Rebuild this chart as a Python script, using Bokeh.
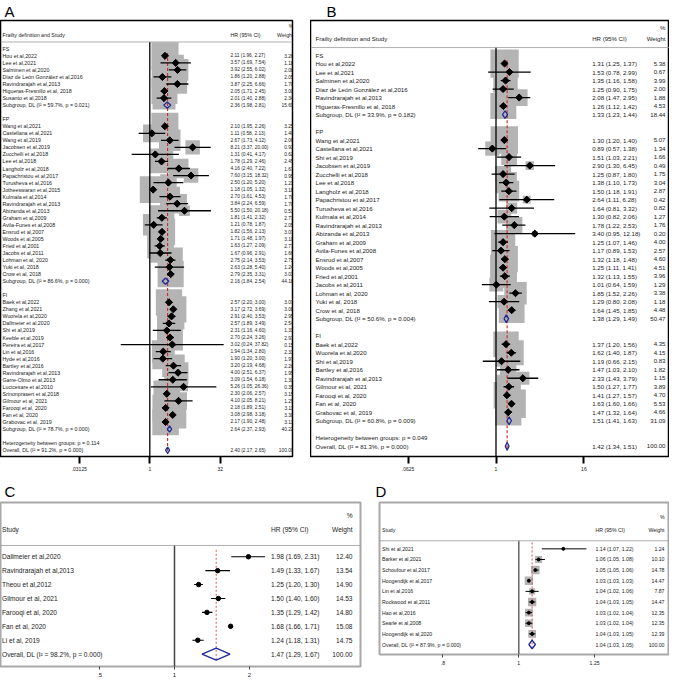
import numpy as np
from bokeh.plotting import figure
from bokeh.models import ColumnDataSource, LabelSet, Label, Span, Range1d, FixedTicker
from bokeh.layouts import row, column
from bokeh.embed import file_html
from bokeh.resources import INLINE
from bokeh.core.properties import value

FONT = "Liberation Sans"
NULL_HR = 1.0

# ---------------- Panel A: data ----------------
A_FS_STUDY = ["Hou  et al,2022", "Lee et al,2021", "Salminen et al,2020",
              "Díaz de León González et al,2016", "Ravindrarajah et al,2013",
              "Higueras-Fresnillo et al, 2018", "Susanto et al,2018"]
A_FS_HR = [2.11, 3.57, 3.92, 1.86, 3.87, 2.05, 2.01]
A_FS_LO = [1.96, 1.69, 2.55, 1.20, 2.25, 1.71, 1.40]
A_FS_HI = [2.27, 7.54, 6.02, 2.88, 6.66, 2.45, 2.88]
A_FS_W = [3.26, 1.18, 2.08, 2.05, 1.70, 3.00, 2.34]
A_FS_SUB = [2.36, 1.98, 2.81, 15.60]
A_FS_STATS = "I² = 59.7%, p = 0.021"

A_FP_STUDY = ["Wang et al,2021", "Castellana et al,2021", "Wang et al,2019", "Jacobsen et al,2019",
              "Zucchelli et al,2018", "Lee et al,2018", "Langholz et al,2018", "Papachristou et al,2017",
              "Turusheva et al,2016", "Jotheeswaran et al,2015", "Kulmala et al,2014",
              "Ravindrarajah et al,2013", "Abizanda et al,2013", "Graham et al,2009",
              "Avila-Funes et al,2008", "Ensrud et al,2007", "Woods et al,2005", "Fried et al,2001",
              "Jacobs et al,2011", "Lohman et al, 2020", "Yuki et al, 2018", "Crow et al, 2018"]
A_FP_HR = [2.10, 1.11, 2.67, 8.21, 1.31, 1.78, 4.16, 7.60, 2.50, 1.18, 2.70, 3.84, 5.50, 1.81,
           1.21, 1.82, 1.71, 1.63, 1.67, 2.75, 2.63, 2.79]
A_FP_LO = [1.95, 0.58, 1.73, 3.37, 0.41, 1.29, 2.40, 3.15, 1.20, 1.05, 1.61, 2.24, 1.50, 1.41,
           0.78, 1.56, 1.48, 1.27, 0.96, 2.14, 1.28, 2.35]
A_FP_HI = [2.26, 2.13, 4.12, 20.00, 4.17, 2.46, 7.22, 18.32, 5.20, 1.32, 4.53, 6.59, 20.18, 2.32,
           1.87, 2.13, 1.97, 2.09, 2.91, 3.53, 5.40, 3.31]
A_FP_W = [3.25, 1.40, 2.06, 0.93, 0.62, 2.45, 1.67, 0.95, 1.21, 3.18, 1.78, 1.70, 0.51, 2.77,
          2.05, 3.07, 3.10, 2.77, 1.66, 2.75, 1.24, 3.03]
A_FP_SUB = [2.16, 1.84, 2.54, 44.18]
A_FP_STATS = "I² = 86.6%, p = 0.000"

A_FI_STUDY = ["Baek et al,2022", "Zhang et al,2021", "Wuorela et al,2020", "Dallmeier et al,2020",
              "Shi et al,2019", "Keeble et al,2019", "Pereira et al,2017", "Lin et al,2016",
              "Hyde et al,2016", "Bartley et al,2016", "Ravindrarajah et al,2013",
              "Garre-Olmo et al,2013", "Lucicesare et al,2010", "Srinonprasert et al,2018",
              "Gilmour et al, 2021", "Farooqi et al, 2020", "Fan et al, 2020", "Grabovac et al, 2019"]
A_FI_HR = [2.57, 3.17, 2.91, 2.57, 2.31, 2.70, 3.02, 1.94, 1.90, 3.20, 4.00, 3.09, 5.26, 2.30,
           4.10, 2.18, 3.08, 2.17]
A_FI_LO = [2.20, 2.72, 2.40, 1.89, 1.16, 2.24, 0.24, 1.34, 1.20, 2.19, 2.51, 1.54, 1.05, 2.06,
           2.05, 1.89, 2.98, 1.90]
A_FI_HI = [3.00, 3.69, 3.53, 3.49, 4.60, 3.26, 37.82, 2.80, 3.00, 4.68, 6.37, 6.18, 26.36, 2.57,
           8.21, 2.51, 3.18, 2.48]
A_FI_W = [3.07, 3.08, 2.95, 2.54, 1.31, 2.97, 0.15, 2.31, 1.97, 2.26, 1.95, 1.30, 0.35, 3.15,
          1.29, 3.11, 3.30, 3.13]
A_FI_SUB = [2.64, 2.37, 2.93, 40.22]
A_FI_STATS = "I² = 78.7%, p = 0.000"

A_HET = "Heterogeneity between groups: p = 0.114"
A_OVERALL = [2.40, 2.17, 2.65, 100.00]
A_OVERALL_STATS = "I² = 91.2%, p = 0.000"
A_TICKS = [1 / 32, 1, 32]
A_TICK_LABELS = [".03125", "1", "32"]

# ---------------- Panel B: data ----------------
B_FS_STUDY = ["Hou  et al,2022", "Lee et al,2021", "Salminen et al,2020",
              "Díaz de León González et al,2016", "Ravindrarajah et al,2013",
              "Higueras-Fresnillo et al, 2018"]
B_FS_HR = [1.31, 1.53, 1.35, 1.25, 2.08, 1.26]
B_FS_LO = [1.25, 0.78, 1.16, 0.90, 1.47, 1.12]
B_FS_HI = [1.37, 2.99, 1.58, 1.75, 2.95, 1.42]
B_FS_W = [5.38, 0.67, 3.99, 2.00, 1.88, 4.53]
B_FS_SUB = [1.33, 1.23, 1.44, 18.44]
B_FS_STATS = "I² = 33.9%, p = 0.182"

B_FP_STUDY = ["Wang et al,2021", "Castellana et al,2021", "Shi et al,2019", "Jacobsen et al,2019",
              "Zucchelli et al,2018", "Lee et al,2018", "Langholz et al,2018", "Papachristou et al,2017",
              "Turusheva et al,2016", "Kulmala et al,2014", "Ravindrarajah et al,2013",
              "Abizanda et al,2013", "Graham et al,2009", "Avila-Funes et al,2008", "Ensrud et al,2007",
              "Woods et al,2005", "Fried et al,2001", "Jacobs et al,2011", "Lohman et al, 2020",
              "Yuki et al, 2018", "Crow et al, 2018"]
B_FP_HR = [1.30, 0.89, 1.51, 2.90, 1.25, 1.38, 1.50, 2.64, 1.64, 1.30, 1.78, 3.40, 1.25, 1.17,
           1.32, 1.25, 1.32, 1.01, 1.85, 1.29, 1.64]
B_FP_LO = [1.20, 0.57, 1.03, 1.30, 0.87, 1.10, 1.18, 1.11, 0.81, 0.82, 1.22, 0.95, 1.07, 0.89,
           1.18, 1.11, 1.13, 0.64, 1.52, 0.80, 1.45]
B_FP_HI = [1.40, 1.38, 2.21, 6.45, 1.80, 1.73, 1.91, 6.28, 3.32, 2.06, 2.53, 12.18, 1.46, 1.53,
           1.48, 1.41, 1.55, 1.59, 2.26, 2.08, 1.85]
B_FP_W = [5.07, 1.34, 1.66, 0.49, 1.75, 3.04, 2.87, 0.42, 0.82, 1.27, 1.76, 0.20, 4.00, 2.57,
          4.60, 4.51, 3.96, 1.29, 3.38, 1.18, 4.48]
B_FP_SUB = [1.38, 1.29, 1.49, 50.47]
B_FP_STATS = "I² = 50.6%, p = 0.004"

B_FI_STUDY = ["Baek et al,2022", "Wuorela et al,2020", "Shi et al,2019", "Bartley et al,2016",
              "Ravindrarajah et al,2013", "Gilmour et al, 2021", "Farooqi et al, 2020",
              "Fan et al, 2020", "Grabovac et al, 2019"]
B_FI_HR = [1.37, 1.62, 1.19, 1.47, 2.33, 1.50, 1.41, 1.63, 1.47]
B_FI_LO = [1.20, 1.40, 0.66, 1.03, 1.43, 1.27, 1.27, 1.60, 1.32]
B_FI_HI = [1.56, 1.87, 2.15, 2.10, 3.79, 1.77, 1.57, 1.66, 1.64]
B_FI_W = [4.35, 4.15, 0.83, 1.82, 1.15, 3.89, 4.70, 5.53, 4.66]
B_FI_SUB = [1.51, 1.41, 1.63, 31.09]
B_FI_STATS = "I² = 60.8%, p = 0.009"

B_HET = "Heterogeneity between groups: p = 0.049"
B_OVERALL = [1.42, 1.34, 1.51, 100.00]
B_OVERALL_STATS = "I² = 81.3%, p = 0.000"
B_TICKS = [1 / 16, 1, 16]
B_TICK_LABELS = [".0625", "1", "16"]

# ---------------- Panel C: data ----------------
C_STUDY = ["Dallmeier et al,2020", "Ravindrarajah et al,2013", "Theou et al,2012",
           "Gilmour et al, 2021", "Farooqi et al, 2020", "Fan et al, 2020", "Li et al, 2019"]
C_HR = [1.98, 1.49, 1.25, 1.50, 1.35, 1.68, 1.24]
C_LO = [1.69, 1.33, 1.20, 1.40, 1.29, 1.66, 1.18]
C_HI = [2.31, 1.67, 1.30, 1.60, 1.42, 1.71, 1.31]
C_W = [12.40, 13.54, 14.90, 14.53, 14.80, 15.08, 14.75]
C_OVERALL = [1.47, 1.29, 1.67, 100.00]
C_OVERALL_STATS = "I² = 98.2%, p = 0.000"
C_TICKS = [0.5, 1, 2]
C_TICK_LABELS = [".5", "1", "2"]

# ---------------- Panel D: data ----------------
D_STUDY = ["Shi et al,2021", "Barker et al,2021", "Schoufour et al,2017", "Hoogendijk et al,2017",
           "Lin et al,2016", "Rockwood et al,2011", "Hao et al,2016", "Searle et al,2008",
           "Hoogendijk et al,2020"]
D_HR = [1.14, 1.06, 1.05, 1.03, 1.04, 1.04, 1.03, 1.03, 1.04]
D_LO = [1.07, 1.05, 1.05, 1.03, 1.02, 1.03, 1.02, 1.02, 1.03]
D_HI = [1.22, 1.08, 1.06, 1.03, 1.06, 1.05, 1.04, 1.04, 1.05]
D_W = [1.24, 10.10, 14.78, 14.47, 7.87, 14.47, 12.35, 12.35, 12.39]
D_OVERALL = [1.04, 1.03, 1.05, 100.00]
D_OVERALL_STATS = "I² = 87.9%, p = 0.000"
D_TICKS = [0.8, 1, 1.25]
D_TICK_LABELS = [".8", "1", "1.25"]


def fmt_ci(h, l, u):
    return f"{h:.2f} ({l:.2f}, {u:.2f})"


def build(groups, het, overall, overall_stats, blank_after):
    lab = dict(row=[], text=[], ci=[], w=[])
    st = dict(row=[], hr=[], lo=[], hi=[], w=[])
    dm = dict(row=[], hr=[], lo=[], hi=[])
    r = 0
    for g in groups:
        if g.get("name"):
            lab["row"].append(r); lab["text"].append(g["name"]); lab["ci"].append(""); lab["w"].append("")
            r += 1
        for s, h, l, u, w in zip(g["study"], g["hr"], g["lo"], g["hi"], g["w"]):
            lab["row"].append(r); lab["text"].append(s); lab["ci"].append(fmt_ci(h, l, u))
            lab["w"].append(f"{w:.2f}")
            st["row"].append(r); st["hr"].append(h); st["lo"].append(l); st["hi"].append(u); st["w"].append(w)
            r += 1
        if g.get("sub"):
            h, l, u, w = g["sub"]
            lab["row"].append(r); lab["text"].append(f"Subgroup, DL ({g['stats']})")
            lab["ci"].append(fmt_ci(h, l, u)); lab["w"].append(f"{w:.2f}")
            dm["row"].append(r); dm["hr"].append(h); dm["lo"].append(l); dm["hi"].append(u)
            r += 1
        if blank_after:
            r += 1
    if het:
        lab["row"].append(r); lab["text"].append(het); lab["ci"].append(""); lab["w"].append("")
        r += 1
    h, l, u, w = overall
    lab["row"].append(r); lab["text"].append(f"Overall, DL ({overall_stats})")
    lab["ci"].append(fmt_ci(h, l, u)); lab["w"].append(f"{w:.2f}")
    dm["row"].append(r); dm["hr"].append(h); dm["lo"].append(l); dm["hi"].append(u)
    return lab, st, dm, r


def panel(cfg, lab, st, dm, overall_row, overall_hr, ticks, tick_labels):
    fw, fh = cfg["frame_w"], cfg["frame_h"]
    x0 = np.exp(-cfg["null_px"] / cfg["px_ln"])
    x1 = np.exp((fw - cfg["null_px"]) / cfg["px_ln"])
    bl, br, bt, bb = cfg["border"]
    p = figure(x_axis_type="log", x_range=Range1d(x0, x1),
               y_range=Range1d(cfg["y_bot"], cfg["y_top"]),
               frame_width=fw, frame_height=fh, y_axis_location=None, title=cfg["letter"],
               toolbar_location=None, output_backend="svg",
               min_border_left=bl, min_border_right=br, min_border_top=bt, min_border_bottom=bb)
    p.title.text_font = FONT
    p.title.text_font_size = "15px"
    p.title.text_font_style = "normal"
    p.title.text_color = "black"
    p.title.align = "left"
    p.title.offset = cfg["letter_x"]
    p.title.standoff = cfg["letter_dy"]
    p.grid.visible = False
    p.outline_line_color = cfg["outline"]
    p.outline_line_width = cfg["outline_w"]
    p.background_fill_color = "white"
    p.border_fill_color = "white"

    ax = p.xaxis[0]
    ax.ticker = FixedTicker(ticks=ticks)
    ax.major_label_overrides = {t: s for t, s in zip(ticks, tick_labels)}
    ax.axis_line_color = None
    ax.minor_tick_line_color = None
    ax.major_tick_in = 0
    ax.major_tick_out = cfg["tick_len"]
    ax.major_tick_line_width = cfg["tick_w"]
    ax.major_tick_line_color = cfg["tick_color"]
    ax.major_label_text_font = FONT
    ax.major_label_text_font_size = cfg["tick_fs"]
    ax.major_label_text_color = "#222222"
    ax.major_label_standoff = cfg["tick_standoff"]

    # header separator
    p.add_layout(Span(location=cfg["sep"], dimension="width", line_color="#9a9a9a", line_width=0.8))

    sst = ColumnDataSource(dict(st, sz=[cfg["box_k"] * np.sqrt(w) for w in st["w"]]))
    if cfg["box_k"] > 0:
        p.scatter(x="hr", y="row", size="sz", marker="square", source=sst,
                  fill_color=cfg["box_color"], line_color=None)
    # null line
    p.segment(x0=[NULL_HR], y0=[cfg["sep"]], x1=[NULL_HR], y1=[cfg["y_bot"]],
              line_color=cfg["null_color"], line_width=cfg["null_w"])
    # overall effect line
    p.segment(x0=[overall_hr], y0=[cfg["ref_top"]], x1=[overall_hr], y1=[overall_row + cfg["ref_bot_ext"]],
              line_color=cfg["ref_color"], line_dash=cfg["ref_dash"], line_width=cfg["ref_w"])
    # CIs
    p.segment(x0="lo", y0="row", x1="hi", y1="row", source=sst, line_color="black",
              line_width=cfg["ci_w"])
    # point estimates
    if cfg["pt_marker"] == "diamond":
        p.scatter(x="hr", y="row", marker="square", angle=np.pi / 4, size=cfg["pt_size"],
                  source=sst, color="black")
    else:
        p.scatter(x="hr", y="row", marker="circle", size=cfg["pt_size"], source=sst, color="black")
    # pooled diamonds
    dh = cfg["dm_h"]
    xs = [[l, h, u, h] for h, l, u in zip(dm["hr"], dm["lo"], dm["hi"])]
    ys = [[r, r - dh, r, r + dh] for r in dm["row"]]
    p.patches(xs=xs, ys=ys, fill_color=None, line_color="#1f2a9a", line_width=cfg["dm_w"])

    slab = ColumnDataSource(lab)
    fs = cfg["fs"]
    common = dict(y="row", x_units="screen", y_units="data", source=slab,
                  text_font=value(FONT), text_color="#1a1a1a", text_baseline="middle")
    p.add_layout(LabelSet(x=cfg["lab_x"], text="text", text_font_size=fs, text_align="left", **common))
    p.add_layout(LabelSet(x=cfg["ci_x"], text="ci", text_font_size=cfg["fs_ci"], text_align="left", **common))
    p.add_layout(LabelSet(x=cfg["w_x"], text="w", text_font_size=cfg["fs_ci"], text_align="right", **common))

    hdr = dict(x_units="screen", y_units="data", text_font=FONT, text_color="#1a1a1a",
               text_baseline="middle", text_font_size=fs)
    p.add_layout(Label(x=cfg["lab_x"], y=cfg["hdr"], text=cfg["hdr_text"], text_align="left", **hdr))
    p.add_layout(Label(x=cfg["ci_x"], y=cfg["hdr"], text="HR (95% CI)", text_align="left", **hdr))
    p.add_layout(Label(x=cfg["w_x"], y=cfg["hdr"], text="Weight", text_align="right", **hdr))
    p.add_layout(Label(x=cfg["w_x"], y=cfg["pct"], text="%", text_align="right", **hdr))
    return p


AB_COMMON = dict(outline="black", outline_w=1.5, tick_len=7, tick_w=2, tick_color="black",
                 tick_fs="5px", tick_standoff=3, box_color="#b4b4b4", null_color="black", null_w=1.3,
                 ref_color="#c62828", ref_dash="3 2", ref_w=1.1, ci_w=1.3, pt_marker="diamond",
                 pt_size=5, dm_h=0.45, dm_w=1.3, hdr_text="Frailty definition and Study")

cfgA = dict(AB_COMMON, frame_w=292, frame_h=436, null_px=149.3, px_ln=20.34, y_top=-4.02, y_bot=57.9,
            sep=-0.97, hdr=-1.94, pct=-3.3, lab_x=2, ci_x=230, w_x=293, fs="5.3px", fs_ci="4.8px",
            border=(0, 18, 0, 22), box_k=15.0, ref_top=0.6, ref_bot_ext=0.5,
            letter="A", letter_x=4, letter_dy=1)
cfgB = dict(AB_COMMON, frame_w=359, frame_h=436, null_px=185.5, px_ln=31.7, y_top=-4.06, y_bot=47.2,
            sep=-0.88, hdr=-1.92, pct=-3.18, lab_x=5, ci_x=281.7, w_x=355, fs="6.1px", fs_ci="6.1px",
            border=(0, 0, 0, 22), box_k=12.2, ref_top=0.6, ref_bot_ext=0.5,
            letter="B", letter_x=16, letter_dy=1)
cfgC = dict(outline="#a8a8a8", outline_w=2, tick_len=3, tick_w=1, tick_color="#444444",
            tick_fs="6px", tick_standoff=3, box_color="#b4b4b4", null_color="#444444", null_w=1.5,
            ref_color="#e05050", ref_dash="2 2", ref_w=1.0, ci_w=1.1, pt_marker="circle",
            pt_size=4.5, dm_h=0.43, dm_w=1.3, hdr_text="Study",
            frame_w=360, frame_h=164, null_px=174.0, px_ln=108.2, y_top=-3.9, y_bot=7.89,
            sep=-0.81, hdr=-1.95, pct=-3.0, lab_x=1.5, ci_x=270.6, w_x=352, fs="6.6px", fs_ci="6.6px",
            border=(0, 12, 0, 18), box_k=0, ref_top=-0.5, ref_bot_ext=0.45,
            letter="C", letter_x=4, letter_dy=5)
cfgD = dict(outline="#a8a8a8", outline_w=2, tick_len=3, tick_w=1, tick_color="#444444",
            tick_fs="5.2px", tick_standoff=3, box_color="#b4b4b4", null_color="#666666", null_w=1.5,
            ref_color="#e05050", ref_dash="2 2", ref_w=1.0, ci_w=1.0, pt_marker="circle",
            pt_size=3, dm_h=0.4, dm_w=1.3, hdr_text="Study",
            frame_w=290, frame_h=152, null_px=139.3, px_ln=340.0, y_top=-4.36, y_bot=9.94,
            sep=-0.76, hdr=-1.78, pct=-3.0, lab_x=2.5, ci_x=216, w_x=285, fs="5.2px", fs_ci="5.2px",
            border=(7, 0, 0, 30), box_k=2.2, ref_top=-0.6, ref_bot_ext=0.45,
            letter="D", letter_x=-4, letter_dy=5)

# ---- Panels ----
groupsA = [
    dict(name="FS", study=A_FS_STUDY, hr=A_FS_HR, lo=A_FS_LO, hi=A_FS_HI, w=A_FS_W, sub=A_FS_SUB, stats=A_FS_STATS),
    dict(name="FP", study=A_FP_STUDY, hr=A_FP_HR, lo=A_FP_LO, hi=A_FP_HI, w=A_FP_W, sub=A_FP_SUB, stats=A_FP_STATS),
    dict(name="FI", study=A_FI_STUDY, hr=A_FI_HR, lo=A_FI_LO, hi=A_FI_HI, w=A_FI_W, sub=A_FI_SUB, stats=A_FI_STATS),
]
labA, stA, dmA, orA = build(groupsA, A_HET, A_OVERALL, A_OVERALL_STATS, True)
pA = panel(cfgA, labA, stA, dmA, orA, A_OVERALL[0], A_TICKS, A_TICK_LABELS)

groupsB = [
    dict(name="FS", study=B_FS_STUDY, hr=B_FS_HR, lo=B_FS_LO, hi=B_FS_HI, w=B_FS_W, sub=B_FS_SUB, stats=B_FS_STATS),
    dict(name="FP", study=B_FP_STUDY, hr=B_FP_HR, lo=B_FP_LO, hi=B_FP_HI, w=B_FP_W, sub=B_FP_SUB, stats=B_FP_STATS),
    dict(name="FI", study=B_FI_STUDY, hr=B_FI_HR, lo=B_FI_LO, hi=B_FI_HI, w=B_FI_W, sub=B_FI_SUB, stats=B_FI_STATS),
]
labB, stB, dmB, orB = build(groupsB, B_HET, B_OVERALL, B_OVERALL_STATS, True)
pB = panel(cfgB, labB, stB, dmB, orB, B_OVERALL[0], B_TICKS, B_TICK_LABELS)

labC, stC, dmC, orC = build([dict(study=C_STUDY, hr=C_HR, lo=C_LO, hi=C_HI, w=C_W)],
                            None, C_OVERALL, C_OVERALL_STATS, False)
pC = panel(cfgC, labC, stC, dmC, orC, C_OVERALL[0], C_TICKS, C_TICK_LABELS)

labD, stD, dmD, orD = build([dict(study=D_STUDY, hr=D_HR, lo=D_LO, hi=D_HI, w=D_W)],
                            None, D_OVERALL, D_OVERALL_STATS, False)
pD = panel(cfgD, labD, stD, dmD, orD, D_OVERALL[0], D_TICKS, D_TICK_LABELS)

layout = column(row(pA, pB), row(pC, pD))
open("out.html", "w").write(file_html(layout, INLINE))
